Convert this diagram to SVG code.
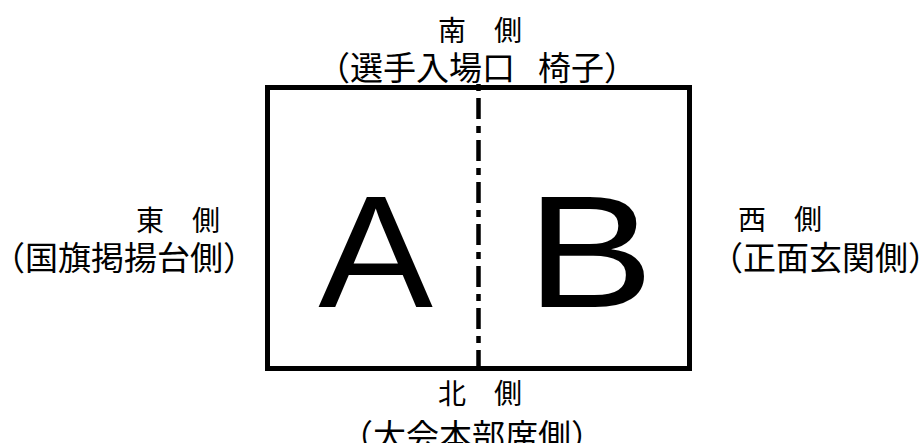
<svg xmlns="http://www.w3.org/2000/svg" width="920" height="443" viewBox="0 0 920 443">
<style>
.jp{font-family:"Noto Sans CJK JP","Noto Sans CJK SC",sans-serif;fill:#000}
.lbl{font-size:28px}
.sub{font-size:33px}
.big{font-family:"Liberation Sans",Arial,sans-serif;font-size:160px;fill:#000}
</style>
<rect width="920" height="443" fill="#fff"/>
<g id="field">
<rect x="267.5" y="87.5" width="422" height="281" fill="none" stroke="#000" stroke-width="5"/>
</g>
<g id="connectors">
<line x1="478.5" y1="84" x2="478.5" y2="368" stroke="#000" stroke-width="4.5" stroke-dasharray="7 7 21 7"/>
</g>
<g id="courtA">
<text class="big" transform="translate(375.5,307) scale(1.075,1)" text-anchor="middle">A</text>
</g>
<g id="courtB">
<text class="big" transform="translate(590,307) scale(1.2,1)" text-anchor="middle">B</text>
</g>
<g id="south">
<text class="jp lbl" x="438" y="41">南　側</text>
<text class="jp sub" x="317" y="80">（選手入場口<tspan x="538">椅子）</tspan></text>
</g>
<g id="north">
<text class="jp lbl" x="438" y="404">北　側</text>
<text class="jp sub" x="340" y="448">（大会本部席側）</text>
</g>
<g id="east">
<text class="jp lbl" x="136" y="231">東　側</text>
<text class="jp sub" x="-8" y="270">（国旗掲揚台側）</text>
</g>
<g id="west">
<text class="jp lbl" x="738" y="230">西　側</text>
<text class="jp sub" x="710" y="270">（正面玄関側）</text>
</g>
</svg>
